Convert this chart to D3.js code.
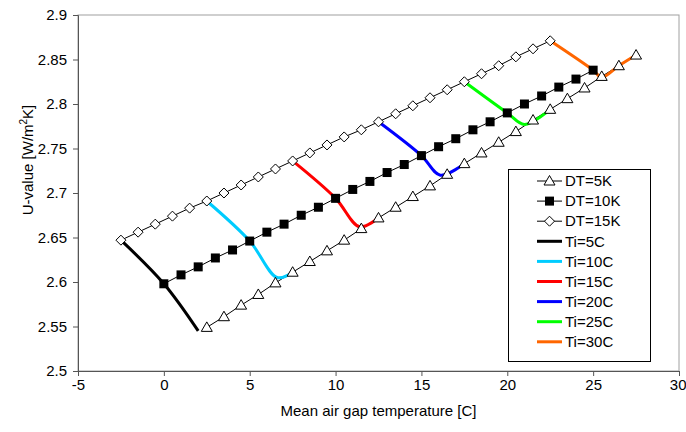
<!DOCTYPE html>
<html>
<head>
<meta charset="utf-8">
<script src="https://cdn.jsdelivr.net/npm/d3@7"></script>
<style>
	body { margin: 0; background: #fff; }
	text { font-family: "Liberation Sans", Arial, sans-serif; }
</style>
</head>
<body>
<svg id="chart"></svg>
<script>
// mean air gap temperature for each series (step 1 C)
var xDT5 = [2.5, 3.5, 4.5, 5.5, 6.5, 7.5, 8.5, 9.5, 10.5, 11.5, 12.5, 13.5, 14.5, 15.5, 16.5, 17.5, 18.5, 19.5, 20.5, 21.5, 22.5, 23.5, 24.5, 25.5, 26.5, 27.5]
var yDT5 = [2.549, 2.561, 2.574, 2.586, 2.599, 2.611, 2.623, 2.635, 2.647, 2.660, 2.672, 2.684, 2.696, 2.708, 2.721, 2.733, 2.745, 2.757, 2.769, 2.782, 2.794, 2.806, 2.818, 2.831, 2.843, 2.855]
var xDT10 = [0, 1, 2, 3, 4, 5, 6, 7, 8, 9, 10, 11, 12, 13, 14, 15, 16, 17, 18, 19, 20, 21, 22, 23, 24, 25]
var yDT10 = [2.598, 2.608, 2.617, 2.627, 2.636, 2.646, 2.656, 2.665, 2.675, 2.684, 2.694, 2.704, 2.713, 2.723, 2.732, 2.742, 2.752, 2.761, 2.771, 2.780, 2.790, 2.800, 2.809, 2.819, 2.828, 2.838]
var xDT15 = [-2.5, -1.5, -0.5, 0.5, 1.5, 2.5, 3.5, 4.5, 5.5, 6.5, 7.5, 8.5, 9.5, 10.5, 11.5, 12.5, 13.5, 14.5, 15.5, 16.5, 17.5, 18.5, 19.5, 20.5, 21.5, 22.5]
var yDT15 = [2.647, 2.656, 2.665, 2.674, 2.683, 2.691, 2.700, 2.709, 2.718, 2.727, 2.736, 2.745, 2.754, 2.763, 2.771, 2.780, 2.789, 2.798, 2.807, 2.816, 2.825, 2.834, 2.843, 2.853, 2.862, 2.871]

// constant inside temperature curves
var tiNames = ["Ti=5C", "Ti=10C", "Ti=15C", "Ti=20C", "Ti=25C", "Ti=30C"]
var tiColors = ["#000000", "#00ccff", "#ff0000", "#0000ff", "#00ff00", "#ff6600"]
var tiX = [
	[-2.5, 0, 2.0],
	[2.5, 5, 6.6, 7.5],
	[7.5, 10, 11.4, 12.5],
	[12.5, 15, 16.1, 17.5],
	[17.5, 20, 21.0, 22.5],
	[22.5, 25, 25.5, 26.5, 27.5]
]
var tiY = [
	[2.647, 2.598, 2.545],
	[2.691, 2.646, 2.605, 2.611],
	[2.736, 2.694, 2.662, 2.672],
	[2.780, 2.742, 2.720, 2.733],
	[2.825, 2.790, 2.777, 2.794],
	[2.871, 2.838, 2.830, 2.843, 2.855]
]

var xTicks = [-5, 0, 5, 10, 15, 20, 25, 30]
var yTicks = [2.5, 2.55, 2.6, 2.65, 2.7, 2.75, 2.8, 2.85, 2.9]

var width = 686
var height = 432
var fontSize = 15
var svg = d3.select("#chart")
	.attr("width", width)
	.attr("height", height)

var x = d3.scaleLinear().domain([-5, 30]).range([78, 679])
var y = d3.scaleLinear().domain([2.5, 2.9]).range([371, 15])

// plot area border
svg.append("rect")
	.attr("x", 78).attr("y", 15)
	.attr("width", 601).attr("height", 356)
	.attr("fill", "none")
	.attr("stroke", "#a0a0a0")
	.attr("stroke-width", 1)

var xAxis = svg.append("g")
	.attr("transform", "translate(0,371)")
	.call(d3.axisBottom(x).tickValues(xTicks).tickSize(5).tickPadding(3).tickFormat(function(d) { return String(d) }))
svg.append("g")
	.attr("transform", "translate(78,0)")
	.call(d3.axisLeft(y).tickValues(yTicks).tickSize(5).tickPadding(6).tickFormat(function(d) { return String(+d.toFixed(2)) }))

svg.selectAll(".domain, .tick line").attr("stroke", "#555")
svg.selectAll(".tick text")
	.attr("font-size", fontSize)
	.attr("fill", "#000")
	.style("font-family", "'Liberation Sans', Arial, sans-serif")

// keep the last x label inside the window
xAxis.selectAll(".tick text")
	.filter(function(d) { return d === 30 })
	.attr("text-anchor", "end")
	.attr("dx", 7)

svg.append("text")
	.attr("x", x(12.5))
	.attr("y", 416)
	.attr("text-anchor", "middle")
	.attr("font-size", fontSize)
	.text("Mean air gap temperature [C]")

var yTitle = svg.append("text")
	.attr("transform", "translate(33,160) rotate(-90)")
	.attr("text-anchor", "middle")
	.attr("font-size", fontSize)
yTitle.append("tspan").text("U-value [W/m")
yTitle.append("tspan").attr("dy", -6).attr("font-size", 10).text("2")
yTitle.append("tspan").attr("dy", 6).text("K]")

function toPoints(xs, ys) {
	return xs.map(function(v, i) { return [v, ys[i]] })
}

var series = [
	{ name: "DT=5K", pts: toPoints(xDT5, yDT5), marker: "tri" },
	{ name: "DT=10K", pts: toPoints(xDT10, yDT10), marker: "sq" },
	{ name: "DT=15K", pts: toPoints(xDT15, yDT15), marker: "dia" }
]

var straight = d3.line()
	.x(function(d) { return x(d[0]) })
	.y(function(d) { return y(d[1]) })
var smooth = d3.line()
	.x(function(d) { return x(d[0]) })
	.y(function(d) { return y(d[1]) })
	.curve(d3.curveCatmullRom.alpha(0.5))

// thin series lines
svg.append("g")
	.selectAll("path")
	.data(series)
	.enter()
	.append("path")
	.attr("d", function(s) { return straight(s.pts) })
	.attr("fill", "none")
	.attr("stroke", "#000")
	.attr("stroke-width", 1)

// Ti curves
svg.append("g")
	.selectAll("path")
	.data(tiNames)
	.enter()
	.append("path")
	.attr("d", function(n, i) { return smooth(toPoints(tiX[i], tiY[i])) })
	.attr("fill", "none")
	.attr("stroke", function(n, i) { return tiColors[i] })
	.attr("stroke-width", 3)
	.attr("stroke-linejoin", "round")

function drawMarker(g, type) {
	if (type === "tri") {
		g.append("path")
			.attr("d", "M0,-5.5L5.5,4L-5.5,4Z")
			.attr("fill", "#fff").attr("stroke", "#000").attr("stroke-width", 1)
	} else if (type === "sq") {
		g.append("rect")
			.attr("x", -4.5).attr("y", -4.5).attr("width", 9).attr("height", 9)
			.attr("fill", "#000")
	} else {
		g.append("path")
			.attr("d", "M0,-5L5,0L0,5L-5,0Z")
			.attr("fill", "#fff").attr("stroke", "#000").attr("stroke-width", 1)
	}
}

series.forEach(function(s) {
	svg.append("g")
		.selectAll("g")
		.data(s.pts)
		.enter()
		.append("g")
		.attr("transform", function(d) { return "translate(" + x(d[0]) + "," + y(d[1]) + ")" })
		.each(function() { drawMarker(d3.select(this), s.marker) })
})

// legend
var legend = svg.append("g")
legend.append("rect")
	.attr("x", 508.5).attr("y", 169.5)
	.attr("width", 142).attr("height", 192)
	.attr("fill", "#fff")
	.attr("stroke", "#000")
	.attr("stroke-width", 1)

var legendItems = series.map(function(s) { return { name: s.name, marker: s.marker, color: "#000", w: 1 } })
	.concat(tiNames.map(function(n, i) { return { name: n, marker: null, color: tiColors[i], w: 3 } }))

var rows = legend.selectAll("g.row")
	.data(legendItems)
	.enter()
	.append("g")
	.attr("class", "row")
	.attr("transform", function(d, i) { return "translate(0," + (181 + i * 20.1) + ")" })
rows.append("line")
	.attr("x1", 537).attr("x2", 562)
	.attr("stroke", function(d) { return d.color })
	.attr("stroke-width", function(d) { return d.w })
rows.each(function(d) {
	if (d.marker) {
		var m = d3.select(this).append("g").attr("transform", "translate(549.5,0)")
		drawMarker(m, d.marker)
	}
})
rows.append("text")
	.attr("x", 565)
	.attr("dy", "0.35em")
	.attr("font-size", fontSize)
	.text(function(d) { return d.name })
</script>
</body>
</html>
